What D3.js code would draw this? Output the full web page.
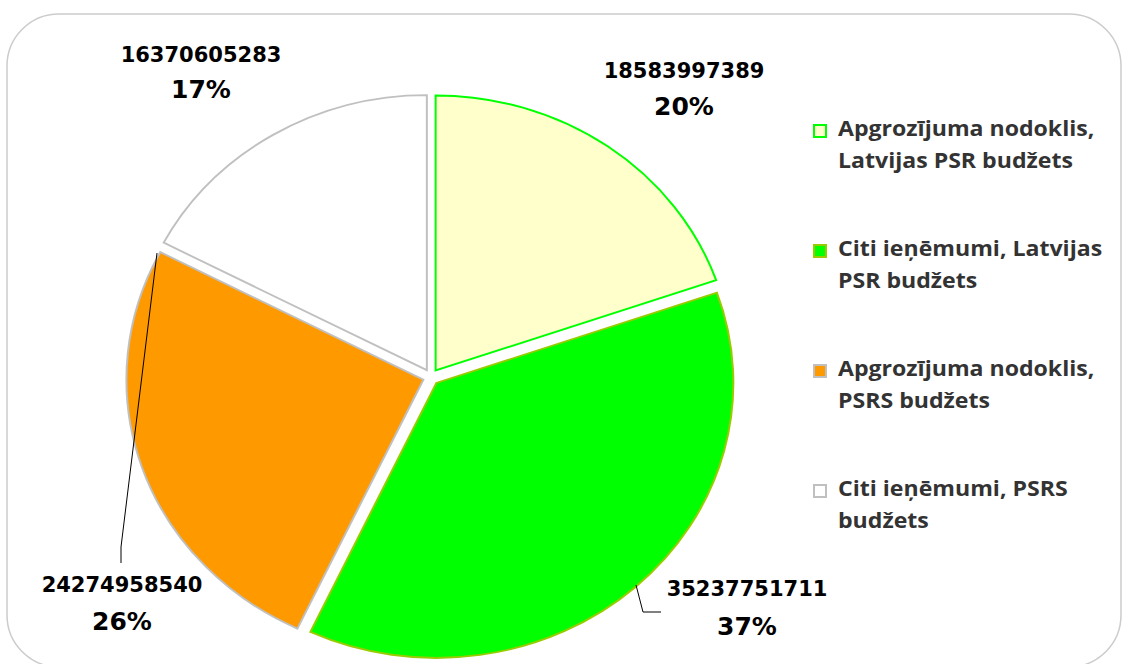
<!DOCTYPE html>
<meta charset="utf-8">
<script src="https://d3js.org/d3.v7.min.js"></script>
<style>
  body { margin: 0; background: #fff; }
</style>
<div id="my_dataviz"></div>
<script>

// data
var categories = ["Apgrozījuma nodoklis, Latvijas PSR budžets",
                  "Citi ieņēmumi, Latvijas PSR budžets",
                  "Apgrozījuma nodoklis, PSRS budžets",
                  "Citi ieņēmumi, PSRS budžets"];
var legendLines = [["Apgrozījuma nodoklis,", "Latvijas PSR budžets"],
                   ["Citi ieņēmumi, Latvijas", "PSR budžets"],
                   ["Apgrozījuma nodoklis,", "PSRS budžets"],
                   ["Citi ieņēmumi, PSRS", "budžets"]];
var values = [18583997389, 35237751711, 24274958540, 16370605283];
var fills   = ["#FFFFCC", "#00FF00", "#FF9900", "#FFFFFF"];
var strokes = ["#00FF00", "#99CC00", "#C0C0C0", "#C0C0C0"];

var width = 1123, height = 664;
var cx = 431, cy = 377, rx = 297, ry = 275, explode = 8;

var svg = d3.select("#my_dataviz")
  .append("svg")
  .attr("width", width)
  .attr("height", height);

// chart frame
svg.append("rect")
  .attr("x", 7).attr("y", 14)
  .attr("width", 1114).attr("height", 653)
  .attr("rx", 52).attr("ry", 52)
  .style("fill", "#fff")
  .style("stroke", "#CCCCCC")
  .style("stroke-width", 1.5);

var pie = d3.pie().sort(null).value(function(d) { return d; });
var arcs = pie(values);
var arc = d3.arc().innerRadius(0).outerRadius(rx);

var g = svg.append("g")
  .attr("transform", "translate(" + cx + "," + cy + ") scale(1," + (ry / rx) + ")");

g.selectAll("path")
  .data(arcs)
  .enter()
  .append("path")
  .attr("transform", function(d) {
    var a = (d.startAngle + d.endAngle) / 2;
    return "translate(" + (Math.sin(a) * explode) + "," + (-Math.cos(a) * explode * rx / ry) + ")";
  })
  .attr("d", arc)
  .style("fill", function(d, i) { return fills[i]; })
  .style("stroke", function(d, i) { return strokes[i]; })
  .style("stroke-width", 2)
  .style("stroke-linejoin", "miter");

// data labels
var total = d3.sum(values);
var labelPos = [[684, 78, 115], [747, 596, 635], [122, 592, 630], [201, 62, 98]];

var labels = svg.append("g");
arcs.forEach(function(d, i) {
  var p = labelPos[i];
  labels.append("text")
    .attr("x", p[0]).attr("y", p[1])
    .attr("text-anchor", "middle")
    .style("font-family", "'DejaVu Sans'")
    .style("font-weight", "bold")
    .style("font-size", "21px")
    .style("fill", "#000")
    .text(values[i]);
  labels.append("text")
    .attr("x", p[0]).attr("y", p[2])
    .attr("text-anchor", "middle")
    .style("font-family", "'DejaVu Sans'")
    .style("font-weight", "bold")
    .style("font-size", "25px")
    .style("fill", "#000")
    .text(Math.round(values[i] / total * 100) + "%");
});

// leader lines
var leaders = [
  [[636, 585], [643, 612], [661, 612]],
  [[157, 253], [121, 547], [121, 563]]
];
svg.selectAll(".leader")
  .data(leaders)
  .enter()
  .append("path")
  .attr("class", "leader")
  .attr("d", d3.line())
  .style("fill", "none")
  .style("stroke", "#000")
  .style("stroke-width", 1);

// legend
var legend = svg.selectAll(".legend")
  .data(categories)
  .enter()
  .append("g")
  .attr("class", "legend")
  .attr("transform", function(d, i) { return "translate(813," + (124 + i * 120) + ")"; });

legend.append("rect")
  .attr("x", 1).attr("y", 1)
  .attr("width", 12).attr("height", 12)
  .style("fill", function(d, i) { return fills[i]; })
  .style("stroke", function(d, i) { return strokes[i]; })
  .style("stroke-width", 2);

legend.each(function(d, i) {
  var t = d3.select(this).append("text")
    .attr("transform", "translate(25,12) scale(1.1,1)")
    .style("font-family", "'Open Sans'")
    .style("font-weight", "bold")
    .style("font-size", "21px")
    .style("fill", "#333");
  legendLines[i].forEach(function(line, j) {
    t.append("tspan").attr("x", 0).attr("dy", j === 0 ? 0 : 32).text(line);
  });
});

</script>
